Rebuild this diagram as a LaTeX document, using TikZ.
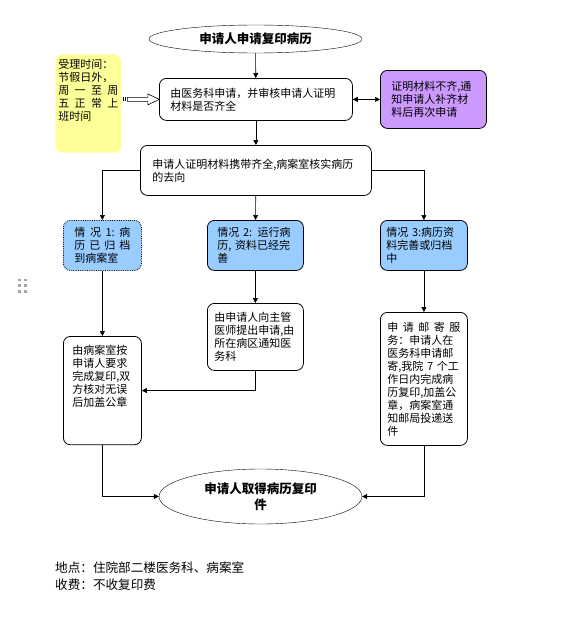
\documentclass[tikz,border=0pt]{standalone}
\usepackage{fontspec}
\setmainfont{Noto Sans CJK SC}
\usetikzlibrary{arrows.meta,shapes.geometric}
\definecolor{noteyellow}{HTML}{FFFF99}
\definecolor{lilac}{HTML}{CC99FF}
\definecolor{caseblue}{HTML}{99CCFF}
\newcommand{\spread}[1]{\makebox[\linewidth][s]{#1}}

\begin{document}
\begin{tikzpicture}[x=1pt,y=-1pt,
	every node/.style={font=\fontsize{11}{13}\selectfont},
	box/.style={draw, line width=0.8pt, rounded corners=7pt, anchor=north west, align=left, inner xsep=0pt, inner ysep=4pt},
	casebox/.style={box, fill=caseblue},
	oval/.style={draw, ellipse, inner sep=0pt, align=center, font=\fontsize{12.5}{16}\selectfont\bfseries},
	arr/.style={-{Triangle[length=5pt,width=5pt]}, semithick}]

	\useasboundingbox (0,0) rectangle (563,634);

	% drag handle at the left edge
	\foreach \dx in {19.5,25.5}
		\foreach \dy in {280,285.7,291.3}
			\fill[gray!70] (\dx-1.3,\dy-1.3) rectangle (\dx+1.3,\dy+1.3);

	\node[oval, minimum width=213pt, minimum height=28pt] (start) at (255.5,39) {申请人申请复印病历};
	\node[box, minimum width=193pt, minimum height=42pt, text width=171pt] (apply) at (159,78) {由医务科申请，并审核申请人证明\\材料是否齐全};
	\node[box, draw=none, fill=noteyellow, minimum width=66pt, text width=60pt, inner ysep=5pt, text depth=79pt] (hours) at (55,54)
		{受理时间：\\节假日外，\\\spread{周\hfil 一\hfil 至\hfil 周}\\\spread{五\hfil 正\hfil 常\hfil 上}\\班时间};
	\node[box, fill=lilac, minimum width=106pt, minimum height=58pt, text width=84pt] (notice) at (380,70) {证明材料不齐,通\\知申请人补齐材\\料后再次申请};
	\node[box, minimum width=231pt, minimum height=50pt, text width=207pt] (check) at (140,145) {申请人证明材料携带齐全,病案室核实病历\\的去向};

	\node[casebox, densely dotted, minimum width=78pt, minimum height=50pt, text width=56pt] (case1) at (63,220)
		{\spread{情\hfil 况\hfil 1:\hfil 病}\\\spread{历\hfil 已\hfil 归\hfil 档}\\到病案室};
	\node[casebox, minimum width=96pt, minimum height=50pt, text width=76pt] (case2) at (207,220) {情况 2: 运行病\\历, 资料已经完\\善};
	\node[casebox, minimum width=87pt, minimum height=50pt, text width=75pt] (case3) at (380,220) {情况 3:病历资\\料完善或归档\\中};

	\node[box, minimum width=78pt, text width=60pt, inner ysep=9pt, text depth=81pt] (copy) at (63,336)
		{由病案室按\\申请人要求\\完成复印,双\\方核对无误\\后加盖公章};
	\node[box, minimum width=96pt, minimum height=67pt, text width=82pt] (ward) at (207,303) {由申请人向主管\\医师提出申请,由\\所在病区通知医\\务科};
	\node[box, minimum width=87pt, minimum height=133pt, text width=73pt] (mail) at (380,312)
		{\spread{申\hfil 请\hfil 邮\hfil 寄\hfil 服}\\务：申请人在\\医务科申请邮\\寄,我院 7 个工\\作日内完成病\\历复印,加盖公\\章，病案室通\\知邮局投递送\\件};

	\node[oval, minimum width=203pt, minimum height=55pt] (finish) at (260.5,496.5) {申请人取得病历复印\\件};

	\node[anchor=north west, align=left, inner sep=0pt, font=\fontsize{12.6}{17}\selectfont] (info) at (55,562)
		{地点：住院部二楼医务科、病案室\\收费：不收复印费};

	% connectors
	\draw[arr] (start) -- (apply);
	\draw[{Triangle[length=5pt,width=5pt]}-{Triangle[length=5pt,width=5pt]}, semithick] (apply.east) -- (notice.west);
	\draw[arr] (apply) -- (check);
	\draw[arr] (check.west) -| (case1);
	\draw[arr] (check) -- (case2);
	\draw[arr] (check.east) -| (case3);
	\draw[arr] (case1) -- (copy);
	\draw[arr] (case2) -- (ward);
	\draw[arr] (case3) -- (mail);
	\draw[arr] (ward.south) |- (copy.east);
	\draw[arr] (copy.south) |- (finish.west);
	\draw[arr] (mail.south) |- (finish.east);

	% striped block arrow from the opening hours
	\coordinate (tail) at (hours.east |- apply.west);
	\begin{scope}[shift={(tail)}]
		\fill (1,-2) rectangle (2.3,2);
		\fill (3.2,-2) rectangle (4.5,2);
		\draw[semithick, fill=white] (5.5,-2) -- (26,-2) -- (26,-5.5) -- (37.5,0) -- (26,5.5) -- (26,2) -- (5.5,2) -- cycle;
	\end{scope}
\end{tikzpicture}
\end{document}
